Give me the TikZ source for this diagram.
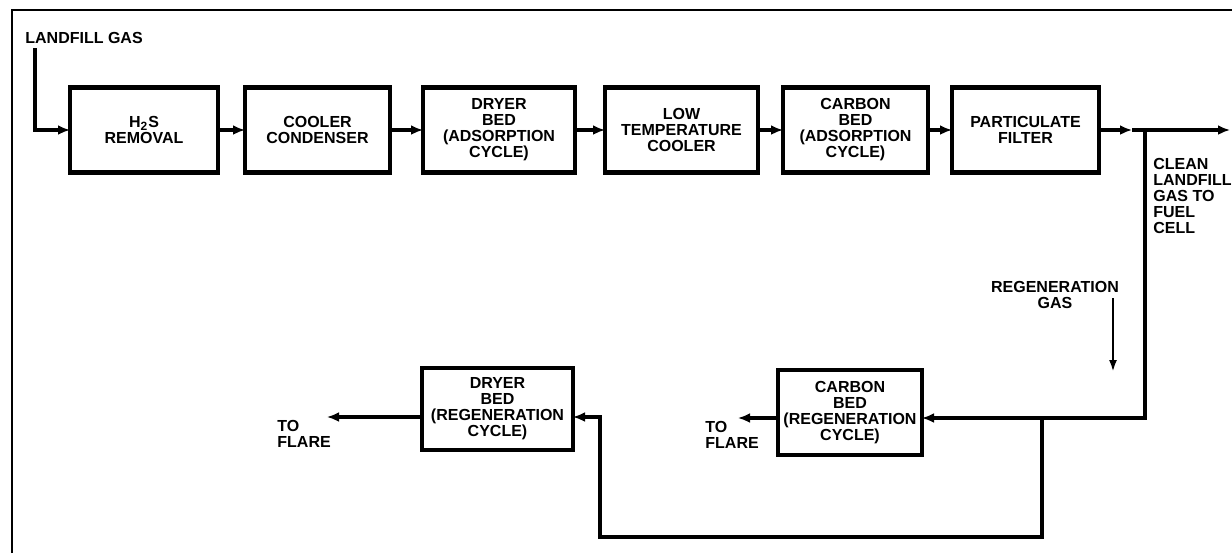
\documentclass[tikz,border=0pt]{standalone}
\usepackage{fontspec}
\setmainfont{Liberation Sans}
\usetikzlibrary{arrows.meta}
\begin{document}
\begin{tikzpicture}[x=0.5pt,y=-0.5pt,
  lbl/.style={font=\fontsize{8}{8}\selectfont\bfseries, inner sep=0pt, align=center},
  proc/.style={draw, line width=2.2pt, inner sep=0pt, outer sep=0pt, align=center,
    font=\fontsize{8}{8}\selectfont\bfseries, minimum height=42.5pt},
  conn/.style={line width=1.6pt, -{Latex[length=6pt,width=5pt]}},
  thinconn/.style={line width=1.2pt, -{Latex[length=6pt,width=4pt]}},
  frame/.style={line width=1pt}]
\useasboundingbox (0,0) rectangle (1232,553);
\draw[frame] (12,553) -- (12,10) -- (1232,10);

% top row
\node[proc, minimum width=74pt]   (h2s)  at (144,130)    {H\textsubscript{2}S\\REMOVAL};
\node[proc, minimum width=72.5pt] (cool) at (317.5,130)  {COOLER\\CONDENSER};
\node[proc, minimum width=76pt]   (dry)  at (499,130)    {DRYER\\BED\\(ADSORPTION\\CYCLE)};
\node[proc, minimum width=76.5pt] (low)  at (681.5,130)  {LOW\\TEMPERATURE\\COOLER};
\node[proc, minimum width=72.5pt] (carb) at (855.5,130)  {CARBON\\BED\\(ADSORPTION\\CYCLE)};
\node[proc, minimum width=73.5pt] (filt) at (1025.5,130) {PARTICULATE\\FILTER};

% bottom row
\node[proc, minimum width=75.5pt, minimum height=41pt] (dryR)  at (497.5,409) {DRYER\\BED\\(REGENERATION\\CYCLE)};
\node[proc, minimum width=72pt,   minimum height=42.5pt] (carbR) at (850,412.5) {CARBON\\BED\\(REGENERATION\\CYCLE)};

% labels
\node[lbl, anchor=west] (lfg) at (25,38) {LANDFILL GAS};
\node[lbl, anchor=north west, align=left] (clean) at (1153,158) {CLEAN\\LANDFILL\\GAS TO\\FUEL\\CELL};
\node[lbl] (regen) at (1055,295) {REGENERATION\\GAS};
\node[lbl, anchor=west, align=left] (fl1) at (277,434) {TO\\FLARE};
\node[lbl, anchor=west, align=left] (fl2) at (705,435) {TO\\FLARE};

% coordinates
\coordinate (lfgTop) at (35,48);
\coordinate (jdot) at (1132,130);
\coordinate (out) at (1230,130);
\coordinate (jv) at (1145,130);
\coordinate (y418) at (0,418);
\coordinate (y417) at (0,417);
\coordinate (jb) at (1042,418);
\coordinate (bR) at (1042,537);
\coordinate (bL) at (600,537);
\coordinate (f1) at (327,417);
\coordinate (f2) at (738,418);
\coordinate (rg1) at (1113,298);
\coordinate (rg2) at (1113,372);

% connectors
\draw[conn] (lfgTop) |- (h2s.west);
\draw[conn] (h2s.east) -- (cool.west);
\draw[conn] (cool.east) -- (dry.west);
\draw[conn] (dry.east) -- (low.west);
\draw[conn] (low.east) -- (carb.west);
\draw[conn] (carb.east) -- (filt.west);
\draw[conn] (filt.east) -- (jdot);
\draw[conn] (jdot) -- (out);
\draw[conn] (jv) |- (carbR.east |- y418);
\draw[conn] (jb) -- (bR) -- (bL) |- (dryR.east |- y417);
\draw[conn] (dryR.west |- y417) -- (f1);
\draw[conn] (carbR.west |- y418) -- (f2);
\draw[thinconn] (rg1) -- (rg2);
\end{tikzpicture}
\end{document}
